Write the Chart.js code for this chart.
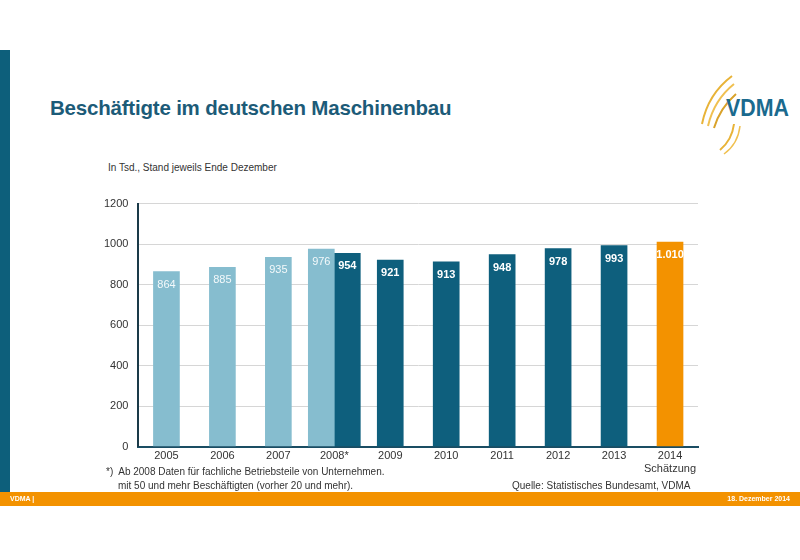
<!DOCTYPE html>
<html lang="de">
<head>
<meta charset="utf-8">
<title>Beschäftigte im deutschen Maschinenbau</title>
<script src="https://cdn.jsdelivr.net/npm/chart.js@4.4.0/dist/chart.umd.min.js"></script>
<style>
  html, body { margin: 0; padding: 0; background: #fff; }
  body { width: 800px; height: 560px; position: relative; overflow: hidden; font-family: "Liberation Sans", Arial, sans-serif; }
  .seitenbalken { position: absolute; left: 0; top: 50px; width: 10px; height: 442px; background: #0d5f7b; }
  .fussleiste { position: absolute; left: 0; top: 492px; width: 800px; height: 14px; background: #f39200; color: #fff; font-size: 7px; font-weight: bold; }
  .fussleiste .links { position: absolute; left: 10px; top: 3px; }
  .fussleiste .rechts { position: absolute; right: 10px; top: 3px; }
  .titel { position: absolute; left: 50px; top: 96px; font-size: 20.5px; font-weight: bold; color: #1c5b78; letter-spacing: -0.2px; }
  .untertitel { position: absolute; left: 108px; top: 162px; font-size: 10px; color: #333; }
  .fussnote { position: absolute; font-size: 10px; color: #333; }
  .logo { position: absolute; left: 690px; top: 66px; width: 110px; height: 90px; }
  .grafik { position: absolute; left: 94px; top: 187px; width: 616px; height: 292px; }
</style>
</head>
<body>
<div class="seitenbalken"></div>
<div class="titel">Beschäftigte im deutschen Maschinenbau</div>
<svg class="logo" viewBox="0 0 110 90">
  <path d="M12 58 Q18 28 42 10" stroke="#e8b338" stroke-width="2" fill="none"/>
  <path d="M18 60 Q24 34 44 18" stroke="#f0c050" stroke-width="2" fill="none"/>
  <path d="M24 62 Q30 42 46 28" stroke="#d9a22a" stroke-width="2" fill="none"/>
  <path d="M30 84 Q42 74 44 58" stroke="#e8b338" stroke-width="2" fill="none"/>
  <path d="M34 88 Q48 78 50 60" stroke="#f0c050" stroke-width="1.5" fill="none"/>
  <text x="36" y="50" font-family="Liberation Sans, Arial" font-weight="bold" font-size="23" fill="#1a6a8e" textLength="63" lengthAdjust="spacingAndGlyphs">VDMA</text>
</svg>
<div class="untertitel">In Tsd., Stand jeweils Ende Dezember</div>
<div class="grafik"><canvas id="beschaeftigteChart"></canvas></div>
<div class="fussnote" style="left:106px; top:466px;">*)&nbsp; Ab 2008 Daten für fachliche Betriebsteile von Unternehmen.</div>
<div class="fussnote" style="left:118px; top:480px;">mit 50 und mehr Beschäftigten (vorher 20 und mehr).</div>
<div class="fussnote" style="left:512px; top:480px;">Quelle: Statistisches Bundesamt, VDMA</div>
<div class="fussleiste"><span class="links">VDMA |</span><span class="rechts">18. Dezember 2014</span></div>

<script>
// Daten (in Tsd.)
const jahre = ['2005', '2006', '2007', '2008*', '2009', '2010', '2011', '2012', '2013', ['2014', 'Schätzung']];
const alteAbgrenzung = [864, 885, 935, 976, null, null, null, null, null, null];
const neueAbgrenzung = [null, null, null, 954, 921, 913, 948, 978, 993, null];
const schaetzung = [null, null, null, null, null, null, null, null, null, 1010];
const yTicks = [0, 200, 400, 600, 800, 1000, 1200];

// Zahl im deutschen Format (1.010)
const formatZahl = (v) => v.toLocaleString('de-DE');

// Werte oben in die Balken schreiben
const balkenWerte = {
    id: 'balkenWerte',
    afterDatasetsDraw(chart) {
        const ctx = chart.ctx;
        ctx.save();
        ctx.textAlign = 'center';
        ctx.textBaseline = 'middle';
        chart.data.datasets.forEach((ds, i) => {
            const meta = chart.getDatasetMeta(i);
            meta.data.forEach((bar, j) => {
                const wert = ds.data[j];
                if (wert === null) return;
                ctx.font = (i === 0 ? 'normal' : 'bold') + ' 11px "Liberation Sans", Arial, sans-serif';
                ctx.fillStyle = i === 0 ? 'rgba(255,255,255,0.9)' : '#fff';
                ctx.fillText(formatZahl(wert), bar.x, bar.y + 13);
            });
        });
        ctx.restore();
    }
};

new Chart(document.getElementById('beschaeftigteChart'), {
    type: 'bar',
    data: {
        labels: jahre,
        datasets: [
            { label: 'bis 2008', data: alteAbgrenzung, backgroundColor: '#86bdcf' },
            { label: 'ab 2008', data: neueAbgrenzung, backgroundColor: '#0e5f7d' },
            { label: 'Schätzung', data: schaetzung, backgroundColor: '#f39200' }
        ]
    },
    options: {
        responsive: true,
        maintainAspectRatio: false,
        animation: false,
        layout: { padding: { top: 4, right: 12 } },
        datasets: { bar: { barThickness: 26, skipNull: true } },
        plugins: { legend: { display: false }, tooltip: { enabled: false } },
        scales: {
            x: {
                grid: { display: false, drawTicks: false },
                border: { color: '#1a4d63', width: 2 },
                ticks: { color: '#333', font: { size: 11, family: '"Liberation Sans", Arial' }, padding: 3, maxRotation: 0, autoSkip: false }
            },
            y: {
                min: 0,
                max: 1200,
                afterBuildTicks: (axis) => { axis.ticks = yTicks.map(v => ({ value: v })); },
                grid: { color: '#d6d6d6', drawTicks: false },
                border: { color: '#1a3a48', width: 2 },
                ticks: { color: '#333', font: { size: 11, family: '"Liberation Sans", Arial' }, padding: 10, callback: (v) => String(v) }
            }
        }
    },
    plugins: [balkenWerte]
});
</script>
</body>
</html>
